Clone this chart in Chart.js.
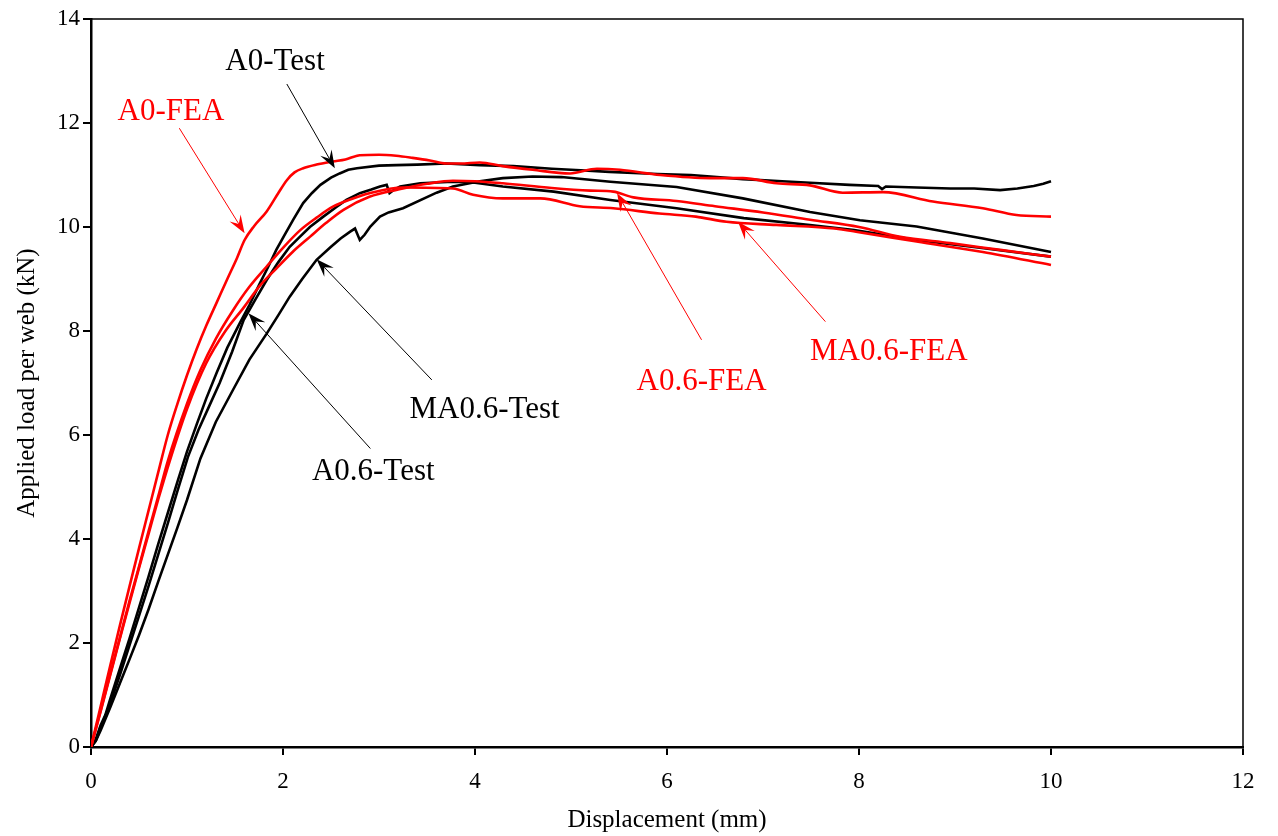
<!DOCTYPE html>
<html>
<head>
<meta charset="utf-8">
<script src="https://cdn.jsdelivr.net/npm/chart.js@4.4.1/dist/chart.umd.min.js"></script>
<style>
  html, body { margin: 0; padding: 0; background: #fff; }
  canvas { display: block; }
</style>
</head>
<body>
<canvas id="c" width="1278" height="836"></canvas>
<script>
// ---------- data (displacement mm, load kN) ----------
const a0TestX = [0,0.05,0.1,0.15,0.2,0.3,0.4,0.5,0.6,0.7,0.8,0.9,1.0,1.1,1.2,1.31,1.42,1.55,1.65,1.76,1.85,1.93,2.02,2.11,2.21,2.3,2.39,2.5,2.59,2.68,2.77,3.0,3.18,3.4,3.7,4.05,4.4,4.8,5.0,5.4,5.9,6.25,6.79,7.2,7.49,7.9,8.2,8.24,8.28,8.6,8.95,9.2,9.47,9.65,9.82,9.92,10.0];
const a0TestY = [0,0.15,0.42,0.62,0.92,1.5,2.08,2.68,3.28,3.9,4.5,5.1,5.68,6.2,6.7,7.2,7.68,8.15,8.5,8.92,9.25,9.56,9.86,10.15,10.46,10.65,10.81,10.95,11.03,11.1,11.13,11.18,11.19,11.2,11.22,11.19,11.17,11.12,11.1,11.06,11.02,11.0,10.92,10.88,10.85,10.81,10.79,10.73,10.78,10.76,10.74,10.74,10.71,10.74,10.79,10.83,10.88];

const a06TestX = [0,0.05,0.1,0.2,0.3,0.4,0.5,0.6,0.7,0.8,0.9,1.01,1.12,1.23,1.34,1.47,1.59,1.71,1.83,1.95,2.07,2.18,2.28,2.42,2.56,2.66,2.8,2.92,3.01,3.08,3.11,3.16,3.22,3.43,3.77,4.0,4.29,4.82,5.41,6.1,6.8,7.49,7.95,8.6,9.3,10.0];
const a06TestY = [0,0.12,0.36,0.84,1.38,1.95,2.52,3.1,3.7,4.3,4.92,5.58,6.1,6.55,7.0,7.6,8.21,8.6,8.98,9.32,9.62,9.82,10.0,10.2,10.39,10.52,10.65,10.72,10.78,10.81,10.65,10.72,10.78,10.84,10.87,10.85,10.78,10.68,10.52,10.36,10.17,10.04,9.94,9.75,9.59,9.43];

const ma06TestX = [0,0.05,0.1,0.2,0.3,0.4,0.5,0.6,0.7,0.8,0.9,1.0,1.14,1.3,1.48,1.65,1.83,1.95,2.07,2.2,2.35,2.5,2.6,2.7,2.75,2.8,2.85,2.91,3.01,3.1,3.25,3.6,3.77,4.05,4.29,4.6,4.9,5.41,6.1,6.79,7.49,8.01,8.6,9.29,10.0];
const ma06TestY = [0,0.12,0.32,0.76,1.22,1.68,2.15,2.65,3.18,3.7,4.22,4.75,5.55,6.25,6.87,7.45,7.95,8.3,8.66,9.0,9.37,9.62,9.78,9.91,9.97,9.75,9.85,10.01,10.2,10.28,10.36,10.66,10.78,10.88,10.94,10.97,10.96,10.87,10.77,10.55,10.29,10.13,10.01,9.78,9.52];

const a0FeaX = [0,0.1,0.2,0.3,0.4,0.5,0.6,0.7,0.8,0.9,1.0,1.1,1.2,1.31,1.42,1.52,1.6,1.7,1.83,1.95,2.04,2.12,2.21,2.35,2.52,2.65,2.8,3.0,3.18,3.35,3.53,3.7,3.85,4.05,4.29,4.6,4.99,5.27,5.51,5.93,6.45,6.79,7.14,7.49,7.83,8.25,8.77,9.29,9.64,10.0];
const a0FeaY = [0,0.78,1.56,2.33,3.08,3.82,4.55,5.28,6.0,6.6,7.15,7.65,8.1,8.55,9.0,9.4,9.75,10.02,10.3,10.65,10.9,11.05,11.13,11.2,11.26,11.3,11.38,11.39,11.37,11.33,11.28,11.22,11.22,11.24,11.17,11.1,11.03,11.12,11.1,11.0,10.94,10.94,10.84,10.8,10.66,10.67,10.49,10.36,10.23,10.2];

const a06FeaX = [0,0.1,0.2,0.3,0.4,0.5,0.6,0.7,0.82,1.0,1.2,1.4,1.59,1.75,1.93,2.1,2.28,2.45,2.63,2.9,3.2,3.5,3.77,4.0,4.29,4.8,5.2,5.44,5.65,6.1,6.5,7.0,7.49,8.0,8.43,8.95,9.47,10.0];
const a06FeaY = [0,0.68,1.38,2.08,2.76,3.44,4.1,4.76,5.5,6.5,7.38,8.0,8.45,8.85,9.2,9.52,9.81,10.08,10.33,10.58,10.72,10.83,10.89,10.88,10.84,10.75,10.7,10.68,10.57,10.5,10.4,10.28,10.14,10.0,9.81,9.69,9.56,9.43];

const ma06FeaX = [0,0.1,0.2,0.3,0.4,0.5,0.6,0.7,0.8,1.0,1.14,1.3,1.48,1.65,1.83,2.0,2.18,2.35,2.52,2.7,2.9,3.25,3.77,3.98,4.29,4.68,5.09,5.44,5.92,6.3,6.62,7.14,7.75,8.0,8.6,9.29,10.0];
const ma06FeaY = [0,0.7,1.4,2.1,2.8,3.47,4.15,4.82,5.5,6.6,7.25,7.85,8.4,8.85,9.24,9.6,9.94,10.18,10.39,10.53,10.65,10.76,10.74,10.62,10.55,10.55,10.4,10.36,10.26,10.2,10.1,10.04,9.97,9.9,9.72,9.52,9.27];

const xTicksMax = 12, yTicksMax = 14;

// ---------- annotations (data coordinates) ----------
const notes = [
  { text: 'A0-Test',   color: '#000000', lx: 1.917, ly: 13.17, sx: 2.04, sy: 12.75, tx: 2.54, ty: 11.13 },
  { text: 'A0-FEA',    color: '#ff0000', lx: 0.833, ly: 12.21, sx: 0.92, sy: 11.9,  tx: 1.60, ty: 9.88 },
  { text: 'MA0.6-Test',color: '#000000', lx: 4.10,  ly: 6.48,  sx: 3.55, sy: 7.06,  tx: 2.35, ty: 9.38 },
  { text: 'A0.6-Test', color: '#000000', lx: 2.94,  ly: 5.29,  sx: 2.91, sy: 5.74,  tx: 1.64, ty: 8.34 },
  { text: 'A0.6-FEA',  color: '#ff0000', lx: 6.36,  ly: 7.02,  sx: 6.36, sy: 7.83,  tx: 5.48, ty: 10.65 },
  { text: 'MA0.6-FEA', color: '#ff0000', lx: 8.31,  ly: 7.60,  sx: 7.65, sy: 8.18,  tx: 6.74, ty: 10.10 }
];

function pts(xs, ys) { return xs.map((x, i) => ({ x: x, y: ys[i] })); }

const FONT = "'Liberation Serif', 'Times New Roman', serif";

const annotPlugin = {
  id: 'annot',
  afterDatasetsDraw(chart) {
    const { ctx, chartArea: a, scales: { x, y } } = chart;
    ctx.save();
    // top/right frame
    ctx.strokeStyle = '#000';
    ctx.lineWidth = 1.5;
    ctx.beginPath();
    ctx.moveTo(a.left, a.top);
    ctx.lineTo(a.right, a.top);
    ctx.lineTo(a.right, a.bottom);
    ctx.stroke();
    notes.forEach(n => {
      const sx = x.getPixelForValue(n.sx), sy = y.getPixelForValue(n.sy);
      const tx = x.getPixelForValue(n.tx), ty = y.getPixelForValue(n.ty);
      const ang = Math.atan2(ty - sy, tx - sx);
      const L = 18, W = 6.5, N = 11;
      const bx = tx - Math.cos(ang) * N, by = ty - Math.sin(ang) * N;
      ctx.strokeStyle = n.color;
      ctx.fillStyle = n.color;
      ctx.lineWidth = 1;
      ctx.beginPath();
      ctx.moveTo(sx, sy);
      ctx.lineTo(bx, by);
      ctx.stroke();
      const px = -Math.sin(ang), py = Math.cos(ang);
      const cx = tx - Math.cos(ang) * L, cy = ty - Math.sin(ang) * L;
      ctx.beginPath();
      ctx.moveTo(tx, ty);
      ctx.lineTo(cx + px * W, cy + py * W);
      ctx.lineTo(bx, by);
      ctx.lineTo(cx - px * W, cy - py * W);
      ctx.closePath();
      ctx.fill();
      ctx.font = '31px ' + FONT;
      ctx.textAlign = 'center';
      ctx.textBaseline = 'middle';
      ctx.fillText(n.text, x.getPixelForValue(n.lx), y.getPixelForValue(n.ly));
    });
    ctx.restore();
  }
};

const lineDs = (label, xs, ys, color, smooth) => ({
  label: label,
  data: pts(xs, ys),
  borderColor: color,
  backgroundColor: color,
  borderWidth: 2.6,
  showLine: true,
  pointRadius: 0,
  fill: false,
  cubicInterpolationMode: smooth ? 'monotone' : 'default',
  tension: 0
});

new Chart(document.getElementById('c'), {
  type: 'scatter',
  data: {
    datasets: [
      lineDs('A0-FEA', a0FeaX, a0FeaY, '#ff0000', true),
      lineDs('A0.6-FEA', a06FeaX, a06FeaY, '#ff0000', true),
      lineDs('MA0.6-FEA', ma06FeaX, ma06FeaY, '#ff0000', true),
      lineDs('A0-Test', a0TestX, a0TestY, '#000000', false),
      lineDs('A0.6-Test', a06TestX, a06TestY, '#000000', false),
      lineDs('MA0.6-Test', ma06TestX, ma06TestY, '#000000', false)
    ]
  },
  options: {
    responsive: false,
    animation: false,
    layout: { padding: { top: 19, right: 35, left: 0, bottom: 0 } },
    plugins: { legend: { display: false }, tooltip: { enabled: false } },
    scales: {
      x: {
        type: 'linear', min: 0, max: xTicksMax,
        ticks: { stepSize: 2, color: '#000', padding: 13, font: { family: FONT, size: 23 } },
        grid: { display: true, drawOnChartArea: false, drawTicks: true, tickLength: 8, color: '#000', lineWidth: 2 },
        border: { display: true, color: '#000', width: 2.5 },
        title: { display: true, text: 'Displacement (mm)', color: '#000', font: { family: FONT, size: 25, lineHeight: 1 }, padding: { top: 0, bottom: 3 } },
        afterFit(s) { s.height = 89; }
      },
      y: {
        type: 'linear', min: 0, max: yTicksMax,
        ticks: { stepSize: 2, color: '#000', padding: 3, font: { family: FONT, size: 23 } },
        grid: { display: true, drawOnChartArea: false, drawTicks: true, tickLength: 8, color: '#000', lineWidth: 2 },
        border: { display: true, color: '#000', width: 2.5 },
        title: { display: true, text: 'Applied load per web (kN)', color: '#000', font: { family: FONT, size: 25, lineHeight: 1 }, padding: { top: 15, bottom: 0 } },
        afterFit(s) { s.width = 91; }
      }
    }
  },
  plugins: [annotPlugin]
});
</script>
</body>
</html>
